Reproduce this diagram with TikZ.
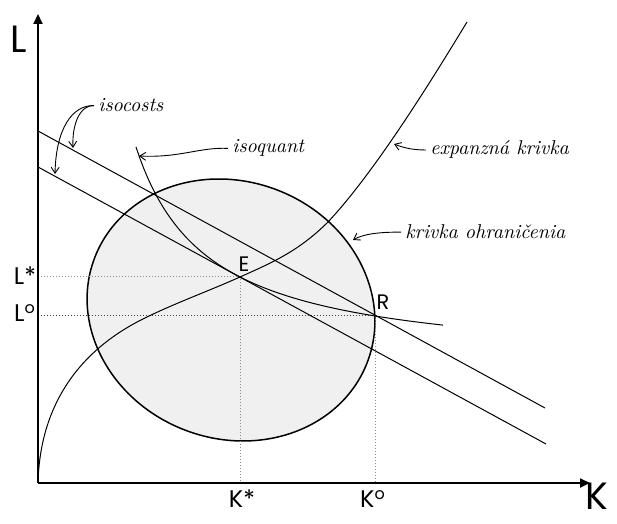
\documentclass[tikz,border=0pt]{standalone}
\usepackage{fontspec}
\setsansfont{Poppins}
\usepackage{tikz}
\usetikzlibrary{arrows.meta}

\begin{document}
\begin{tikzpicture}[
	  x=0.5pt, y=0.5pt,
	  axis/.style={line width=1pt, -{Triangle[length=5pt,width=4.5pt]}},
	  curve/.style={line width=0.5pt},
	  guide/.style={densely dotted, line width=0.5pt, black!45},
	  pointer/.style={line width=0.45pt, -{Straight Barb[length=3pt,width=4pt]}},
	  note/.style={font=\itshape, inner xsep=2pt, inner ysep=0pt},
	  axlabel/.style={font=\sffamily\fontsize{19}{19}\selectfont, inner sep=0pt},
	  ticklabel/.style={font=\sffamily\fontsize{12}{12}\selectfont, inner sep=0pt},
	  ptlabel/.style={font=\sffamily\fontsize{10.5}{10.5}\selectfont, inner sep=0pt}
	]
	  \useasboundingbox (0,0) rectangle (617,524);

	  % points
	  \coordinate (O) at (38,41);
	  \coordinate (Ltip) at (38,510);
	  \coordinate (Ktip) at (590,41);
	  \coordinate (C) at (231,214);
	  \coordinate (E) at (240,247);
	  \coordinate (R) at (375,208);

	  % constraint curve
	  \draw[line width=0.75pt, fill=black!6, rotate around={-21:(C)}] (C) ellipse [x radius=73pt, y radius=64.3pt];

	  % guides
	  \draw[guide] (O |- E) -- (E) -- (E |- O);
	  \draw[guide, black!75] (O |- R) -- (R);
	  \draw[guide] (R) -- (R |- O);

	  % isocosts
	  \coordinate (I1a) at (38,393);
	  \coordinate (I1b) at (545,116);
	  \coordinate (I2a) at (38,357);
	  \coordinate (I2b) at (546,80);
	  \draw[curve] (I1a) -- (I1b);
	  \draw[curve] (I2a) -- (I2b);

	  % isoquant
	  \draw[curve] plot[domain=136:443, samples=80] (\x, {157.2+158/((\x-64.1)/100)});

	  % expansion path
	  \draw[curve] (O) .. controls (40,120) and (80,175) .. (147,207)
	    .. controls (178,222) and (210,233.5) .. (E)
	    .. controls (270,260.5) and (298,272) .. (328,302)
	    .. controls (373,350) and (427,436) .. (467,502);

	  % axes
	  \draw[axis] (O) -- (Ltip);
	  \draw[axis] (O) -- (Ktip);

	  % labels
	  \node[axlabel] (Llab) at (19,485) {L};
	  \node[axlabel] (Klab) at (597,28) {K};
	  \node[ticklabel] (Lstar) at (25,248) {L*};
	  \node[ticklabel] (Lo) at (25,211) {L\textsuperscript{o}};
	  \node[ticklabel] (Kstar) at (242,25) {K*};
	  \node[ticklabel] (Ko) at (373,25) {K\textsuperscript{o}};
	  \node[ptlabel] (Elab) at (244,260) {E};
	  \node[ptlabel] (Rlab) at (383,222) {R};

	  \node[note, anchor=base west] (isocosts) at (94,412) {isocosts};
	  \node[note, anchor=base west] (isoquant) at (228,371) {isoquant};
	  \node[note, anchor=base west] (expanzna) at (426,369) {expanzná krivka};
	  \node[note, anchor=base west] (ohranic) at (401,285) {krivka ohraničenia};

	  % pointers
	  \coordinate (tipA) at (73,376);
	  \coordinate (tipB) at (55,350);
	  \coordinate (tipQ) at (139,368);
	  \coordinate (tipX) at (394,380);
	  \coordinate (tipO) at (353,284);
	  \draw[pointer] (isocosts.west) .. controls (80,419) and (72,400) .. (tipA);
	  \draw[pointer] (isocosts.west) .. controls (72,419) and (56,395) .. (tipB);
	  \draw[pointer] (isoquant.west) .. controls (200,377) and (180,366) .. (tipQ);
	  \draw[pointer] (expanzna.west) .. controls (410,374) and (402,377) .. (tipX);
	  \draw[pointer] (ohranic.west) .. controls (385,292) and (365,291) .. (tipO);
	\end{tikzpicture}
\end{document}
